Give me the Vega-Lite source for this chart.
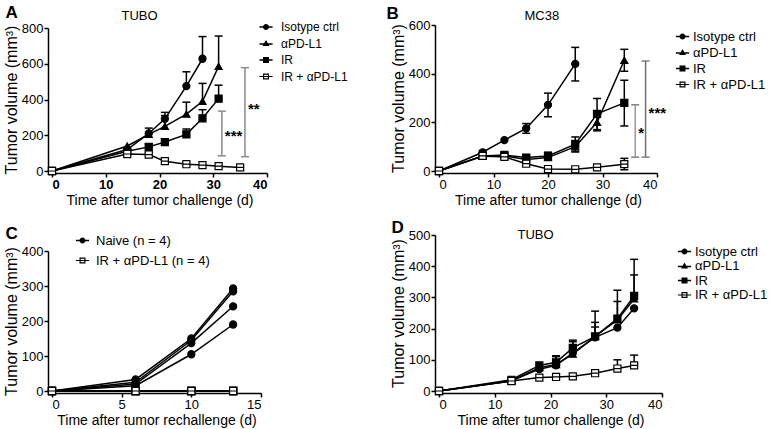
{
  "$schema": "https://vega.github.io/schema/vega-lite/v6.json",
  "padding": {"left": 3, "top": 3, "right": 3, "bottom": 3},
  "background": "white",
  "columns": 2,
  "bounds": "flush",
  "align": "each",
  "spacing": {"column": 172, "row": 64},
  "resolve": {"scale": {"shape": "independent", "fill": "independent"}, "legend": {"shape": "independent", "fill": "independent"}},
  "config": {
    "font": "Liberation Sans",
    "view": {"stroke": null},
    "axis": {"grid": false, "domainColor": "black", "domainWidth": 1.5, "tickColor": "black", "tickWidth": 1.5, "tickSize": 4, "labelFontSize": 13, "labelColor": "black", "labelPadding": 1, "titleFontSize": 14, "titleFontWeight": "normal", "titleColor": "black", "titlePadding": 2},
    "axisLeft": {"titleFontSize": 16},
    "axisBottom": {"titlePadding": 2},
    "legend": {"orient": "none", "padding": 0, "title": null, "labelFontSize": 12, "labelColor": "black", "symbolSize": 36, "symbolStrokeColor": "transparent", "symbolStrokeWidth": 0, "symbolOpacity": 1, "symbolFillColor": "black", "rowPadding": 4, "labelOffset": 7}
  },
  "datasets": {
    "A": [
      {"group": "Isotype ctrl", "day": 0, "vol": 0},
      {"group": "Isotype ctrl", "day": 14, "vol": 120},
      {"group": "Isotype ctrl", "day": 18, "vol": 210, "lo": 210, "hi": 240},
      {"group": "Isotype ctrl", "day": 21, "vol": 292, "lo": 292, "hi": 328},
      {"group": "Isotype ctrl", "day": 25, "vol": 475, "lo": 475, "hi": 555},
      {"group": "Isotype ctrl", "day": 28, "vol": 628, "lo": 628, "hi": 752},
      {"group": "αPD-L1", "day": 0, "vol": 0},
      {"group": "αPD-L1", "day": 14, "vol": 140},
      {"group": "αPD-L1", "day": 18, "vol": 205},
      {"group": "αPD-L1", "day": 21, "vol": 250, "lo": 250, "hi": 310},
      {"group": "αPD-L1", "day": 25, "vol": 318, "lo": 318, "hi": 385},
      {"group": "αPD-L1", "day": 28, "vol": 390, "lo": 390, "hi": 490},
      {"group": "αPD-L1", "day": 31, "vol": 585, "lo": 585, "hi": 755},
      {"group": "IR", "day": 0, "vol": 0},
      {"group": "IR", "day": 14, "vol": 110},
      {"group": "IR", "day": 18, "vol": 135, "lo": 135, "hi": 150},
      {"group": "IR", "day": 21, "vol": 162, "lo": 162, "hi": 180},
      {"group": "IR", "day": 25, "vol": 205, "lo": 205, "hi": 235},
      {"group": "IR", "day": 28, "vol": 295, "lo": 295, "hi": 343},
      {"group": "IR", "day": 31, "vol": 405, "lo": 405, "hi": 480},
      {"group": "IR + αPD-L1", "day": 0, "vol": 0},
      {"group": "IR + αPD-L1", "day": 14, "vol": 95},
      {"group": "IR + αPD-L1", "day": 18, "vol": 92, "lo": 92, "hi": 105},
      {"group": "IR + αPD-L1", "day": 21, "vol": 55},
      {"group": "IR + αPD-L1", "day": 25, "vol": 38},
      {"group": "IR + αPD-L1", "day": 28, "vol": 33},
      {"group": "IR + αPD-L1", "day": 31, "vol": 27},
      {"group": "IR + αPD-L1", "day": 35, "vol": 20}
    ],
    "Abr": [
      {"xb": 31.6, "lo": 85, "hi": 335, "ym": 195, "lab": "***"},
      {"xb": 35.9, "lo": 80, "hi": 578, "ym": 345, "lab": "**"}
    ],
    "B": [
      {"group": "Isotype ctrl", "day": 0, "vol": 0},
      {"group": "Isotype ctrl", "day": 8, "vol": 77},
      {"group": "Isotype ctrl", "day": 12, "vol": 127},
      {"group": "Isotype ctrl", "day": 16, "vol": 175, "lo": 155, "hi": 195},
      {"group": "Isotype ctrl", "day": 20, "vol": 272, "lo": 223, "hi": 320},
      {"group": "Isotype ctrl", "day": 25, "vol": 440, "lo": 370, "hi": 508},
      {"group": "αPD-L1", "day": 0, "vol": 0},
      {"group": "αPD-L1", "day": 8, "vol": 60},
      {"group": "αPD-L1", "day": 12, "vol": 62},
      {"group": "αPD-L1", "day": 16, "vol": 47},
      {"group": "αPD-L1", "day": 20, "vol": 55},
      {"group": "αPD-L1", "day": 25, "vol": 100, "lo": 78, "hi": 125},
      {"group": "αPD-L1", "day": 29, "vol": 200, "lo": 165, "hi": 232},
      {"group": "αPD-L1", "day": 34, "vol": 455, "lo": 410, "hi": 500},
      {"group": "IR", "day": 0, "vol": 0},
      {"group": "IR", "day": 8, "vol": 62},
      {"group": "IR", "day": 12, "vol": 66, "lo": 56, "hi": 76},
      {"group": "IR", "day": 16, "vol": 55, "lo": 44, "hi": 66},
      {"group": "IR", "day": 20, "vol": 62, "lo": 48, "hi": 77},
      {"group": "IR", "day": 25, "vol": 110, "lo": 82, "hi": 140},
      {"group": "IR", "day": 29, "vol": 235, "lo": 170, "hi": 298},
      {"group": "IR", "day": 34, "vol": 280, "lo": 185, "hi": 373},
      {"group": "IR + αPD-L1", "day": 0, "vol": 0},
      {"group": "IR + αPD-L1", "day": 8, "vol": 62},
      {"group": "IR + αPD-L1", "day": 12, "vol": 58},
      {"group": "IR + αPD-L1", "day": 16, "vol": 30},
      {"group": "IR + αPD-L1", "day": 20, "vol": 8},
      {"group": "IR + αPD-L1", "day": 25, "vol": 7},
      {"group": "IR + αPD-L1", "day": 29, "vol": 15},
      {"group": "IR + αPD-L1", "day": 34, "vol": 28, "lo": 5, "hi": 52}
    ],
    "Bbr": [
      {"xb": 36.0, "lo": 57, "hi": 272, "ym": 155, "lab": "*"},
      {"xb": 37.9, "lo": 57, "hi": 452, "ym": 237, "lab": "***"}
    ],
    "C": [
      {"grp": "Naive (n = 4)", "mouse": "n1", "day": 0, "vol": 0},
      {"grp": "Naive (n = 4)", "mouse": "n1", "day": 6, "vol": 33},
      {"grp": "Naive (n = 4)", "mouse": "n1", "day": 10, "vol": 150},
      {"grp": "Naive (n = 4)", "mouse": "n1", "day": 13, "vol": 293},
      {"grp": "Naive (n = 4)", "mouse": "n2", "day": 0, "vol": 0},
      {"grp": "Naive (n = 4)", "mouse": "n2", "day": 6, "vol": 25},
      {"grp": "Naive (n = 4)", "mouse": "n2", "day": 10, "vol": 145},
      {"grp": "Naive (n = 4)", "mouse": "n2", "day": 13, "vol": 285},
      {"grp": "Naive (n = 4)", "mouse": "n3", "day": 0, "vol": 0},
      {"grp": "Naive (n = 4)", "mouse": "n3", "day": 6, "vol": 20},
      {"grp": "Naive (n = 4)", "mouse": "n3", "day": 10, "vol": 137},
      {"grp": "Naive (n = 4)", "mouse": "n3", "day": 13, "vol": 242},
      {"grp": "Naive (n = 4)", "mouse": "n4", "day": 0, "vol": 0},
      {"grp": "Naive (n = 4)", "mouse": "n4", "day": 6, "vol": 15},
      {"grp": "Naive (n = 4)", "mouse": "n4", "day": 10, "vol": 105},
      {"grp": "Naive (n = 4)", "mouse": "n4", "day": 13, "vol": 190},
      {"grp": "IR + αPD-L1 (n = 4)", "mouse": "t1", "day": 0, "vol": 0},
      {"grp": "IR + αPD-L1 (n = 4)", "mouse": "t1", "day": 6, "vol": 0},
      {"grp": "IR + αPD-L1 (n = 4)", "mouse": "t1", "day": 10, "vol": 0},
      {"grp": "IR + αPD-L1 (n = 4)", "mouse": "t1", "day": 13, "vol": 0},
      {"grp": "IR + αPD-L1 (n = 4)", "mouse": "t2", "day": 0, "vol": 0},
      {"grp": "IR + αPD-L1 (n = 4)", "mouse": "t2", "day": 6, "vol": 0},
      {"grp": "IR + αPD-L1 (n = 4)", "mouse": "t2", "day": 10, "vol": 0},
      {"grp": "IR + αPD-L1 (n = 4)", "mouse": "t2", "day": 13, "vol": 0},
      {"grp": "IR + αPD-L1 (n = 4)", "mouse": "t3", "day": 0, "vol": 0},
      {"grp": "IR + αPD-L1 (n = 4)", "mouse": "t3", "day": 6, "vol": 0},
      {"grp": "IR + αPD-L1 (n = 4)", "mouse": "t3", "day": 10, "vol": 0},
      {"grp": "IR + αPD-L1 (n = 4)", "mouse": "t3", "day": 13, "vol": 0},
      {"grp": "IR + αPD-L1 (n = 4)", "mouse": "t4", "day": 0, "vol": 0},
      {"grp": "IR + αPD-L1 (n = 4)", "mouse": "t4", "day": 6, "vol": 0},
      {"grp": "IR + αPD-L1 (n = 4)", "mouse": "t4", "day": 10, "vol": 0},
      {"grp": "IR + αPD-L1 (n = 4)", "mouse": "t4", "day": 13, "vol": 0}
    ],
    "D": [
      {"group": "Isotype ctrl", "day": 0, "vol": 0},
      {"group": "Isotype ctrl", "day": 13, "vol": 33},
      {"group": "Isotype ctrl", "day": 18, "vol": 70},
      {"group": "Isotype ctrl", "day": 21, "vol": 82},
      {"group": "Isotype ctrl", "day": 24, "vol": 122},
      {"group": "Isotype ctrl", "day": 28, "vol": 172, "lo": 172, "hi": 205},
      {"group": "Isotype ctrl", "day": 32, "vol": 203},
      {"group": "Isotype ctrl", "day": 35, "vol": 265},
      {"group": "αPD-L1", "day": 0, "vol": 0},
      {"group": "αPD-L1", "day": 13, "vol": 32},
      {"group": "αPD-L1", "day": 18, "vol": 75},
      {"group": "αPD-L1", "day": 21, "vol": 85, "lo": 85, "hi": 110},
      {"group": "αPD-L1", "day": 24, "vol": 118, "lo": 118, "hi": 158},
      {"group": "αPD-L1", "day": 28, "vol": 175, "lo": 175, "hi": 220},
      {"group": "αPD-L1", "day": 32, "vol": 228, "lo": 228, "hi": 287},
      {"group": "αPD-L1", "day": 35, "vol": 295, "lo": 295, "hi": 372},
      {"group": "IR", "day": 0, "vol": 0},
      {"group": "IR", "day": 13, "vol": 36},
      {"group": "IR", "day": 18, "vol": 82},
      {"group": "IR", "day": 21, "vol": 92, "lo": 92, "hi": 113},
      {"group": "IR", "day": 24, "vol": 138, "lo": 138, "hi": 163},
      {"group": "IR", "day": 28, "vol": 175, "lo": 175, "hi": 256},
      {"group": "IR", "day": 32, "vol": 232, "lo": 232, "hi": 323},
      {"group": "IR", "day": 35, "vol": 305, "lo": 305, "hi": 422},
      {"group": "IR + αPD-L1", "day": 0, "vol": 0},
      {"group": "IR + αPD-L1", "day": 13, "vol": 32},
      {"group": "IR + αPD-L1", "day": 18, "vol": 43},
      {"group": "IR + αPD-L1", "day": 21, "vol": 45},
      {"group": "IR + αPD-L1", "day": 24, "vol": 47},
      {"group": "IR + αPD-L1", "day": 28, "vol": 57, "lo": 57, "hi": 66},
      {"group": "IR + αPD-L1", "day": 32, "vol": 72, "lo": 72, "hi": 100},
      {"group": "IR + αPD-L1", "day": 35, "vol": 82, "lo": 82, "hi": 115}
    ]
  },
  "concat": [
    {
      "width": 215, "height": 146,
      "data": {"name": "A"},
      "resolve": {"axis": {"x": "independent", "y": "independent"}, "scale": {"shape": "independent", "fill": "independent"}},
      "layer": [
        {
          "mark": {"type": "line", "color": "black", "strokeWidth": 1.5},
          "encoding": {
            "x": {"field": "day", "type": "quantitative", "scale": {"domain": [0, 40], "range": [0, 215], "nice": false}, "axis": {"values": [0, 10, 20, 30, 40], "labelFontWeight": "bold", "title": "Time after tumor challenge (d)", "offset": 2}},
            "y": {"field": "vol", "type": "quantitative", "scale": {"domain": [0, 800], "range": [146, 3], "nice": false}, "axis": {"values": [0, 200, 400, 600, 800], "title": "Tumor volume (mm³)", "offset": 4}},
            "detail": {"field": "group"}
          }
        },
        {
          "transform": [{"filter": "datum.hi != null"}],
          "mark": {"type": "rule", "color": "black", "strokeWidth": 1.5},
          "encoding": {
            "x": {"field": "day", "type": "quantitative", "axis": null},
            "y": {"field": "lo", "type": "quantitative", "axis": null},
            "y2": {"field": "hi"}
          }
        },
        {
          "transform": [{"filter": "datum.hi != null"}],
          "mark": {"type": "tick", "orient": "horizontal", "color": "black", "thickness": 1.5, "size": 8, "opacity": 1},
          "encoding": {
            "x": {"field": "day", "type": "quantitative", "axis": null},
            "y": {"field": "hi", "type": "quantitative", "axis": null}
          }
        },
        {
          "mark": {"type": "point", "filled": true, "size": 50, "stroke": "black", "strokeWidth": 1.2, "opacity": 1},
          "encoding": {
            "x": {"field": "day", "type": "quantitative", "axis": {"orient": "top", "title": "A", "domain": false, "ticks": false, "labels": false, "titleX": -47, "titleY": -8, "titleAlign": "left", "titleBaseline": "alphabetic", "titleAngle": 0, "titleFontSize": 17, "titleFontWeight": "bold"}},
            "y": {"field": "vol", "type": "quantitative", "axis": {"orient": "right", "title": "TUBO", "domain": false, "ticks": false, "labels": false, "titleX": -146, "titleY": -6, "titleAlign": "left", "titleBaseline": "alphabetic", "titleAngle": 0, "titleFontSize": 13}},
            "shape": {"field": "group", "type": "nominal", "scale": {"domain": ["Isotype ctrl", "αPD-L1", "IR", "IR + αPD-L1"], "range": ["circle", "triangle-up", "square", "M-1,-1H1V1H-1ZM-1,0H1"]}, "legend": null},
            "fill": {"field": "group", "type": "nominal", "scale": {"domain": ["Isotype ctrl", "αPD-L1", "IR", "IR + αPD-L1"], "range": ["black", "black", "black", "white"]}, "legend": null}
          }
        },
        {
          "mark": {"type": "point", "filled": true, "color": "black", "opacity": 0, "size": 36},
          "encoding": {
            "x": {"field": "day", "type": "quantitative", "axis": null},
            "y": {"field": "vol", "type": "quantitative", "axis": null},
            "shape": {"field": "group", "type": "nominal", "scale": {"domain": ["Isotype ctrl", "αPD-L1", "IR", "IR + αPD-L1"], "range": ["M-2.2,-0.25H-0.9V0.25H-2.2ZM0.9,-0.25H2.2V0.25H0.9ZM1,0A1,1,0,1,1,-1,0A1,1,0,1,1,1,0Z", "M-2.2,-0.1H-0.6V0.4H-2.2ZM0.6,-0.1H2.2V0.4H0.6ZM0,-1.15L1.15,0.85L-1.15,0.85Z", "M-2.2,-0.25H-1V0.25H-2.2ZM1,-0.25H2.2V0.25H1ZM-1,-1H1V1H-1Z", "M-1,-1H1V1H-1ZM-0.6,-0.6V0.6H0.6V-0.6ZM-2.2,-0.2H2.2V0.2H-2.2Z"]},
              "legend": {"legendX": 208, "legendY": -4, "labelFontSize": 12, "rowPadding": 4.5, "labelOffset": 9, "symbolOpacity": 1, "symbolStrokeWidth": 0, "symbolFillColor": "black"}}
          }
        },
        {
          "data": {"name": "Abr"},
          "mark": {"type": "rule", "color": "#8a8a8a", "strokeWidth": 1.5},
          "encoding": {
            "x": {"field": "xb", "type": "quantitative", "axis": null},
            "y": {"field": "lo", "type": "quantitative", "axis": null},
            "y2": {"field": "hi"}
          }
        },
        {
          "data": {"name": "Abr"},
          "mark": {"type": "tick", "orient": "horizontal", "color": "#8a8a8a", "thickness": 1.5, "size": 8, "opacity": 1},
          "encoding": {
            "x": {"field": "xb", "type": "quantitative", "axis": null},
            "y": {"field": "hi", "type": "quantitative", "axis": null}
          }
        },
        {
          "data": {"name": "Abr"},
          "mark": {"type": "tick", "orient": "horizontal", "color": "#8a8a8a", "thickness": 1.5, "size": 8, "opacity": 1},
          "encoding": {
            "x": {"field": "xb", "type": "quantitative", "axis": null},
            "y": {"field": "lo", "type": "quantitative", "axis": null}
          }
        },
        {
          "data": {"name": "Abr"},
          "mark": {"type": "text", "align": "left", "baseline": "middle", "dx": 3, "fontSize": 15, "fontWeight": "bold", "color": "black"},
          "encoding": {
            "x": {"field": "xb", "type": "quantitative", "axis": null},
            "y": {"field": "ym", "type": "quantitative", "axis": null},
            "text": {"field": "lab"}
          }
        }
      ]
    },
    {
      "width": 218, "height": 146,
      "data": {"name": "B"},
      "resolve": {"axis": {"x": "independent", "y": "independent"}, "scale": {"shape": "independent", "fill": "independent"}},
      "layer": [
        {
          "mark": {"type": "line", "color": "black", "strokeWidth": 1.5},
          "encoding": {
            "x": {"field": "day", "type": "quantitative", "scale": {"domain": [0, 40], "nice": false}, "axis": {"values": [0, 10, 20, 30, 40], "title": "Time after tumor challenge (d)", "offset": 2}},
            "y": {"field": "vol", "type": "quantitative", "scale": {"domain": [0, 600], "nice": false}, "axis": {"values": [0, 200, 400, 600], "title": "Tumor volume (mm³)", "offset": 4}},
            "detail": {"field": "group"}
          }
        },
        {
          "transform": [{"filter": "datum.hi != null"}],
          "mark": {"type": "rule", "color": "black", "strokeWidth": 1.5},
          "encoding": {
            "x": {"field": "day", "type": "quantitative", "axis": null},
            "y": {"field": "lo", "type": "quantitative", "axis": null},
            "y2": {"field": "hi"}
          }
        },
        {
          "transform": [{"filter": "datum.hi != null"}],
          "mark": {"type": "tick", "orient": "horizontal", "color": "black", "thickness": 1.5, "size": 8, "opacity": 1},
          "encoding": {
            "x": {"field": "day", "type": "quantitative", "axis": null},
            "y": {"field": "hi", "type": "quantitative", "axis": null}
          }
        },
        {
          "transform": [{"filter": "datum.hi != null"}],
          "mark": {"type": "tick", "orient": "horizontal", "color": "black", "thickness": 1.5, "size": 8, "opacity": 1},
          "encoding": {
            "x": {"field": "day", "type": "quantitative", "axis": null},
            "y": {"field": "lo", "type": "quantitative", "axis": null}
          }
        },
        {
          "mark": {"type": "point", "filled": true, "size": 50, "stroke": "black", "strokeWidth": 1.2, "opacity": 1},
          "encoding": {
            "x": {"field": "day", "type": "quantitative", "axis": {"orient": "top", "title": "B", "domain": false, "ticks": false, "labels": false, "titleX": -53, "titleY": -7, "titleAlign": "left", "titleBaseline": "alphabetic", "titleAngle": 0, "titleFontSize": 17, "titleFontWeight": "bold"}},
            "y": {"field": "vol", "type": "quantitative", "axis": {"orient": "right", "title": "MC38", "domain": false, "ticks": false, "labels": false, "titleX": -133, "titleY": -6, "titleAlign": "left", "titleBaseline": "alphabetic", "titleAngle": 0, "titleFontSize": 13}},
            "shape": {"field": "group", "type": "nominal", "scale": {"domain": ["Isotype ctrl", "αPD-L1", "IR", "IR + αPD-L1"], "range": ["circle", "triangle-up", "square", "M-1,-1H1V1H-1ZM-1,0H1"]}, "legend": null},
            "fill": {"field": "group", "type": "nominal", "scale": {"domain": ["Isotype ctrl", "αPD-L1", "IR", "IR + αPD-L1"], "range": ["black", "black", "black", "white"]}, "legend": null}
          }
        },
        {
          "mark": {"type": "point", "filled": true, "color": "black", "opacity": 0, "size": 36},
          "encoding": {
            "x": {"field": "day", "type": "quantitative", "axis": null},
            "y": {"field": "vol", "type": "quantitative", "axis": null},
            "shape": {"field": "group", "type": "nominal", "scale": {"domain": ["Isotype ctrl", "αPD-L1", "IR", "IR + αPD-L1"], "range": ["M-2.2,-0.25H-0.9V0.25H-2.2ZM0.9,-0.25H2.2V0.25H0.9ZM1,0A1,1,0,1,1,-1,0A1,1,0,1,1,1,0Z", "M-2.2,-0.1H-0.6V0.4H-2.2ZM0.6,-0.1H2.2V0.4H0.6ZM0,-1.15L1.15,0.85L-1.15,0.85Z", "M-2.2,-0.25H-1V0.25H-2.2ZM1,-0.25H2.2V0.25H1ZM-1,-1H1V1H-1Z", "M-1,-1H1V1H-1ZM-0.6,-0.6V0.6H0.6V-0.6ZM-2.2,-0.2H2.2V0.2H-2.2Z"]},
              "legend": {"legendX": 237, "legendY": 5, "labelFontSize": 13, "rowPadding": 2, "labelOffset": 4, "symbolOpacity": 1, "symbolStrokeWidth": 0, "symbolFillColor": "black"}}
          }
        },
        {
          "data": {"name": "Bbr"},
          "transform": [{"filter": "datum.lab === '*'"}],
          "mark": {"type": "rule", "color": "#9a9a9a", "strokeWidth": 1.5},
          "encoding": {
            "x": {"field": "xb", "type": "quantitative", "axis": null},
            "y": {"field": "lo", "type": "quantitative", "axis": null},
            "y2": {"field": "hi"}
          }
        },
        {
          "data": {"name": "Bbr"},
          "transform": [{"filter": "datum.lab !== '*'"}],
          "mark": {"type": "rule", "color": "#707070", "strokeWidth": 1.5},
          "encoding": {
            "x": {"field": "xb", "type": "quantitative", "axis": null},
            "y": {"field": "lo", "type": "quantitative", "axis": null},
            "y2": {"field": "hi"}
          }
        },
        {
          "data": {"name": "Bbr"},
          "mark": {"type": "tick", "orient": "horizontal", "color": "#808080", "thickness": 1.5, "size": 8, "opacity": 1},
          "encoding": {
            "x": {"field": "xb", "type": "quantitative", "axis": null},
            "y": {"field": "hi", "type": "quantitative", "axis": null}
          }
        },
        {
          "data": {"name": "Bbr"},
          "mark": {"type": "tick", "orient": "horizontal", "color": "#808080", "thickness": 1.5, "size": 8, "opacity": 1},
          "encoding": {
            "x": {"field": "xb", "type": "quantitative", "axis": null},
            "y": {"field": "lo", "type": "quantitative", "axis": null}
          }
        },
        {
          "data": {"name": "Bbr"},
          "mark": {"type": "text", "align": "left", "baseline": "middle", "dx": 3, "fontSize": 15, "fontWeight": "bold", "color": "black"},
          "encoding": {
            "x": {"field": "xb", "type": "quantitative", "axis": null},
            "y": {"field": "ym", "type": "quantitative", "axis": null},
            "text": {"field": "lab"}
          }
        }
      ]
    },
    {
      "width": 209, "height": 156,
      "data": {"name": "C"},
      "resolve": {"axis": {"x": "independent", "y": "independent"}, "scale": {"shape": "independent", "fill": "independent"}},
      "layer": [
        {
          "mark": {"type": "line", "color": "black", "strokeWidth": 1.5},
          "encoding": {
            "x": {"field": "day", "type": "quantitative", "scale": {"domain": [0, 15], "nice": false}, "axis": {"values": [0, 5, 10, 15], "title": "Time after tumor rechallenge (d)", "offset": 2}},
            "y": {"field": "vol", "type": "quantitative", "scale": {"domain": [0, 400], "range": [156, 16], "nice": false}, "axis": {"values": [0, 100, 200, 300, 400], "title": "Tumor volume (mm³)", "offset": 4}},
            "detail": {"field": "mouse"}
          }
        },
        {
          "mark": {"type": "point", "filled": true, "size": 50, "stroke": "black", "strokeWidth": 1.2, "opacity": 1},
          "encoding": {
            "x": {"field": "day", "type": "quantitative", "axis": {"orient": "top", "title": "C", "domain": false, "ticks": false, "labels": false, "titleX": -47, "titleY": 3, "titleAlign": "left", "titleBaseline": "alphabetic", "titleAngle": 0, "titleFontSize": 17, "titleFontWeight": "bold"}},
            "y": {"field": "vol", "type": "quantitative", "axis": null},
            "shape": {"field": "grp", "type": "nominal", "scale": {"domain": ["Naive (n = 4)", "IR + αPD-L1 (n = 4)"], "range": ["circle", "M-1,-1H1V1H-1ZM-1,0H1"]}, "legend": null},
            "fill": {"field": "grp", "type": "nominal", "scale": {"domain": ["Naive (n = 4)", "IR + αPD-L1 (n = 4)"], "range": ["black", "white"]}, "legend": null}
          }
        },
        {
          "mark": {"type": "point", "filled": true, "color": "black", "opacity": 0, "size": 36},
          "encoding": {
            "x": {"field": "day", "type": "quantitative", "axis": null},
            "y": {"field": "vol", "type": "quantitative", "axis": null},
            "shape": {"field": "grp", "type": "nominal", "scale": {"domain": ["Naive (n = 4)", "IR + αPD-L1 (n = 4)"], "range": ["M-2.2,-0.25H-0.9V0.25H-2.2ZM0.9,-0.25H2.2V0.25H0.9ZM1,0A1,1,0,1,1,-1,0A1,1,0,1,1,1,0Z", "M-1,-1H1V1H-1ZM-0.6,-0.6V0.6H0.6V-0.6ZM-2.2,-0.2H2.2V0.2H-2.2Z"]},
              "legend": {"legendX": 24, "legendY": -1, "labelFontSize": 13, "rowPadding": 6, "labelOffset": 7, "symbolOpacity": 1, "symbolStrokeWidth": 0, "symbolFillColor": "black"}}
          }
        }
      ]
    },
    {
      "width": 223, "height": 156,
      "data": {"name": "D"},
      "resolve": {"axis": {"x": "independent", "y": "independent"}, "scale": {"shape": "independent", "fill": "independent"}},
      "layer": [
        {
          "mark": {"type": "line", "color": "black", "strokeWidth": 1.5},
          "encoding": {
            "x": {"field": "day", "type": "quantitative", "scale": {"domain": [0, 40], "nice": false}, "axis": {"values": [0, 10, 20, 30, 40], "title": "Time after tumor challenge (d)", "offset": 2}},
            "y": {"field": "vol", "type": "quantitative", "scale": {"domain": [0, 500], "nice": false}, "axis": {"values": [0, 100, 200, 300, 400, 500], "title": "Tumor volume (mm³)", "offset": 4}},
            "detail": {"field": "group"}
          }
        },
        {
          "transform": [{"filter": "datum.hi != null"}],
          "mark": {"type": "rule", "color": "black", "strokeWidth": 1.5},
          "encoding": {
            "x": {"field": "day", "type": "quantitative", "axis": null},
            "y": {"field": "lo", "type": "quantitative", "axis": null},
            "y2": {"field": "hi"}
          }
        },
        {
          "transform": [{"filter": "datum.hi != null"}],
          "mark": {"type": "tick", "orient": "horizontal", "color": "black", "thickness": 1.5, "size": 8, "opacity": 1},
          "encoding": {
            "x": {"field": "day", "type": "quantitative", "axis": null},
            "y": {"field": "hi", "type": "quantitative", "axis": null}
          }
        },
        {
          "mark": {"type": "point", "filled": true, "size": 50, "stroke": "black", "strokeWidth": 1.2, "opacity": 1},
          "encoding": {
            "x": {"field": "day", "type": "quantitative", "axis": {"orient": "top", "title": "D", "domain": false, "ticks": false, "labels": false, "titleX": -48, "titleY": -3, "titleAlign": "left", "titleBaseline": "alphabetic", "titleAngle": 0, "titleFontSize": 17, "titleFontWeight": "bold"}},
            "y": {"field": "vol", "type": "quantitative", "axis": {"orient": "right", "title": "TUBO", "domain": false, "ticks": false, "labels": false, "titleX": -145, "titleY": 3, "titleAlign": "left", "titleBaseline": "alphabetic", "titleAngle": 0, "titleFontSize": 13}},
            "shape": {"field": "group", "type": "nominal", "scale": {"domain": ["Isotype ctrl", "αPD-L1", "IR", "IR + αPD-L1"], "range": ["circle", "triangle-up", "square", "M-1,-1H1V1H-1ZM-1,0H1"]}, "legend": null},
            "fill": {"field": "group", "type": "nominal", "scale": {"domain": ["Isotype ctrl", "αPD-L1", "IR", "IR + αPD-L1"], "range": ["black", "black", "black", "white"]}, "legend": null}
          }
        },
        {
          "mark": {"type": "point", "filled": true, "color": "black", "opacity": 0, "size": 36},
          "encoding": {
            "x": {"field": "day", "type": "quantitative", "axis": null},
            "y": {"field": "vol", "type": "quantitative", "axis": null},
            "shape": {"field": "group", "type": "nominal", "scale": {"domain": ["Isotype ctrl", "αPD-L1", "IR", "IR + αPD-L1"], "range": ["M-2.2,-0.25H-0.9V0.25H-2.2ZM0.9,-0.25H2.2V0.25H0.9ZM1,0A1,1,0,1,1,-1,0A1,1,0,1,1,1,0Z", "M-2.2,-0.1H-0.6V0.4H-2.2ZM0.6,-0.1H2.2V0.4H0.6ZM0,-1.15L1.15,0.85L-1.15,0.85Z", "M-2.2,-0.25H-1V0.25H-2.2ZM1,-0.25H2.2V0.25H1ZM-1,-1H1V1H-1Z", "M-1,-1H1V1H-1ZM-0.6,-0.6V0.6H0.6V-0.6ZM-2.2,-0.2H2.2V0.2H-2.2Z"]},
              "legend": {"legendX": 239, "legendY": 10, "labelFontSize": 13, "rowPadding": 0.5, "labelOffset": 4, "symbolOpacity": 1, "symbolStrokeWidth": 0, "symbolFillColor": "black"}}
          }
        }
      ]
    }
  ]
}
